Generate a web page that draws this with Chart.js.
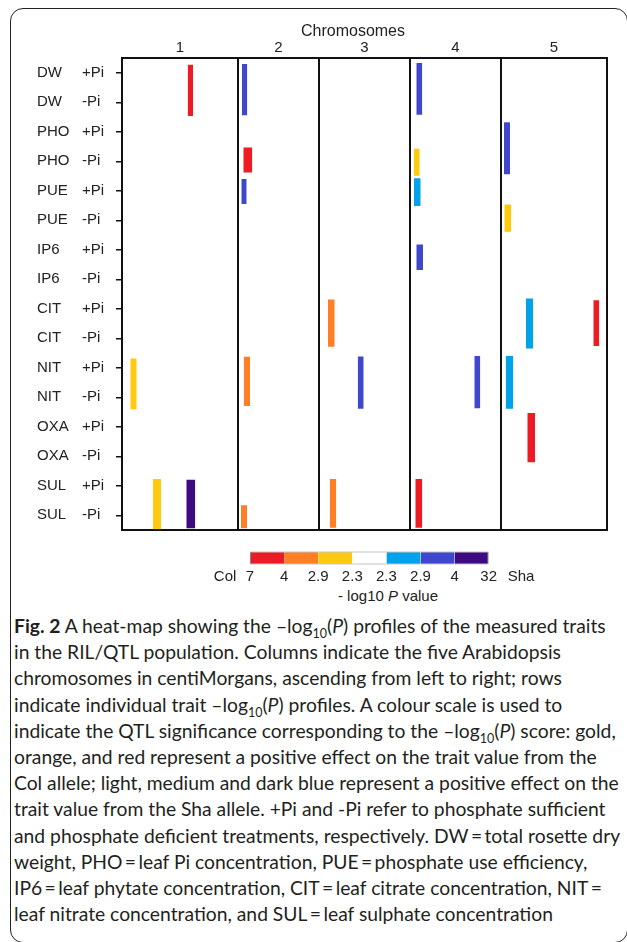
<!DOCTYPE html>
<html>
<head>
<meta charset="utf-8">
<script src="https://cdn.jsdelivr.net/npm/chart.js@4.4.1/dist/chart.umd.min.js"></script>
<style>
    html, body { margin: 0; padding: 0; background: #fff; }
    body { width: 627px; height: 942px; position: relative; overflow: hidden;
           font-family: 'Liberation Sans', Arial, sans-serif; color: #222; }
    #frame { position: absolute; left: 10px; top: 8px; width: 616px; height: 933px;
             border: 1.5px solid #222; border-radius: 13px; }
    #heat { position: absolute; left: 0; top: 0; }
    #scaleBar { position: absolute; left: 200px; top: 550px; }
    .lbl { position: absolute; white-space: nowrap; line-height: 1; transform: translate(-50%, -50%); }
    #chromTitle { left: 353px; top: 31px; font-size: 16px; }
    #scaleTitle { left: 388px; top: 595px; font-size: 15px; }
    #caption { position: absolute; left: 14px; top: 613px; white-space: nowrap;
               font-family: Lato, 'Open Sans', sans-serif; font-size: 19.3px; line-height: 26.2px; color: #231f20; }
    #caption sub { font-size: 12.5px; line-height: 0; }
</style>
</head>
<body>
<div id="frame"></div>
<canvas id="heat" width="627" height="550"></canvas>
<canvas id="scaleBar" width="340" height="32"></canvas>
<div class="lbl" id="chromTitle">Chromosomes</div>
<div class="lbl" id="scaleTitle">- log10 <i>P</i> value</div>
<div id="caption">
<b>Fig. 2</b> A heat-map showing the –log<sub>10</sub>(<i>P</i>) profiles of the measured traits<br>
in the RIL/QTL population. Columns indicate the five Arabidopsis<br>
chromosomes in centiMorgans, ascending from left to right; rows<br>
indicate individual trait –log<sub>10</sub>(<i>P</i>) profiles. A colour scale is used to<br>
indicate the QTL significance corresponding to the –log<sub>10</sub>(<i>P</i>) score: gold,<br>
orange, and red represent a positive effect on the trait value from the<br>
Col allele; light, medium and dark blue represent a positive effect on the<br>
trait value from the Sha allele. +Pi and -Pi refer to phosphate sufficient<br>
and phosphate deficient treatments, respectively. DW&thinsp;=&thinsp;total rosette dry<br>
weight, PHO&thinsp;=&thinsp;leaf Pi concentration, PUE&thinsp;=&thinsp;phosphate use efficiency,<br>
IP6&thinsp;=&thinsp;leaf phytate concentration, CIT&thinsp;=&thinsp;leaf citrate concentration, NIT&thinsp;=<br>
leaf nitrate concentration, and SUL&thinsp;=&thinsp;leaf sulphate concentration
</div>

<script>
// rows: each trait measured under +Pi and -Pi
var traits = ['DW', 'PHO', 'PUE', 'IP6', 'CIT', 'NIT', 'OXA', 'SUL'];
var treatments = ['+Pi', '-Pi'];

// chromosome lengths in cM
var chromosomes = ['1', '2', '3', '4', '5'];
var chromosomeLengths = [116, 81, 91, 91, 106];

// colour scale: Col side (red, orange, gold), blank, Sha side (light, medium, dark blue)
var scaleColours = ['#ED1C24', '#FF7F27', '#FFC90E', '#FFFFFF', '#00A2E8', '#3F48CC', '#3D0A7F'];
var scaleTicks = ['7', '4', '2.9', '2.3', '2.3', '2.9', '4', '32'];

// QTL: chromosome, start / end (cM on chromosome), first / last row, colour class
var qtlChr     = [1, 2, 2, 2, 4, 5, 4, 4, 5, 4, 1, 2, 1, 1, 2, 3, 3, 3, 4, 4, 5, 5, 5, 5];
var qtlStart   = [65.7, 4.0, 5.3, 3.3, 6.3, 3.0, 3.7, 4.0, 3.3, 6.3, 8.3, 5.7, 31.0, 64.3, 3.0, 9.0, 38.7, 10.7, 64.3, 5.3, 25.0, 92.3, 4.7, 26.3];
var qtlEnd     = [71.0, 9.3, 14.3, 8.7, 12.3, 9.0, 9.7, 10.7, 10.3, 13.0, 14.7, 12.0, 39.0, 73.3, 9.0, 15.7, 44.7, 17.3, 70.3, 12.3, 32.3, 98.3, 12.3, 34.0];
var qtlRowFrom = [-0.27, -0.30, 2.53, 3.60, -0.33, 1.68, 2.58, 3.58, 4.47, 5.82, 9.69, 9.63, 13.77, 13.80, 14.66, 7.69, 9.62, 13.77, 9.60, 13.77, 7.65, 7.71, 9.60, 11.53];
var qtlRowTo   = [1.47, 1.44, 3.38, 4.45, 1.42, 3.44, 3.49, 4.52, 5.39, 6.69, 11.41, 11.30, 15.47, 15.44, 15.44, 9.29, 11.39, 15.42, 11.37, 15.42, 9.35, 9.26, 11.39, 13.20];
var qtlClass   = [0, 5, 0, 5, 5, 5, 2, 4, 2, 5, 2, 1, 2, 6, 1, 1, 5, 1, 5, 0, 4, 0, 4, 0];


var rowCount = traits.length * treatments.length;
var chromosomeStarts = [];
var totalLength = 0;
chromosomeLengths.forEach(function (len) {
    chromosomeStarts.push(totalLength);
    totalLength += len;
});

var labelFont = { family: "'Liberation Sans', Arial, sans-serif", size: 15 };
var ink = '#111';

// each QTL is a short line on its first row, filled down to its last row
var qtlDatasets = qtlChr.map(function (chr, i) {
    var offset = chromosomeStarts[chr - 1];
    return {
        data: [
            { x: offset + qtlStart[i], y: qtlRowFrom[i] },
            { x: offset + qtlEnd[i], y: qtlRowFrom[i] }
        ],
        fill: { target: { value: qtlRowTo[i] } },
        backgroundColor: scaleColours[qtlClass[i]],
        borderColor: 'rgba(0,0,0,0)',
        borderWidth: 0,
        pointRadius: 0,
        tension: 0
    };
});

var heatChart = new Chart(document.getElementById('heat').getContext('2d'), {
    type: 'line',
    data: { datasets: qtlDatasets },
    options: {
        responsive: false,
        animation: false,
        layout: { padding: { left: 37, top: 36, right: 20, bottom: 3 } },
        plugins: {
            legend: { display: false },
            tooltip: { enabled: false }
        },
        scales: {
            x: {
                type: 'linear',
                position: 'bottom',
                min: 0,
                max: totalLength,
                afterBuildTicks: function (scale) {
                    scale.ticks = chromosomeStarts.concat([totalLength]).map(function (v) { return { value: v }; });
                },
                ticks: { display: false },
                grid: { color: ink, lineWidth: 2, drawTicks: false },
                border: { color: ink, width: 2 }
            },
            x2: {
                type: 'linear',
                position: 'top',
                min: 0,
                max: totalLength,
                afterBuildTicks: function (scale) {
                    scale.ticks = chromosomeStarts.map(function (s, i) { return { value: s + chromosomeLengths[i] / 2 }; });
                },
                afterFit: function (scale) { scale.height = 22; },
                ticks: {
                    callback: function (v, i) { return chromosomes[i]; },
                    font: labelFont, color: '#222', padding: 1, maxRotation: 0, autoSkip: false
                },
                grid: { display: false, drawTicks: false },
                border: { display: true, color: ink, width: 2 }
            },
            y: {
                type: 'linear',
                position: 'left',
                weight: 0,
                min: -0.5,
                max: rowCount - 0.5,
                reverse: true,
                afterBuildTicks: function (scale) {
                    var t = [];
                    for (var i = 0; i < rowCount; i++) t.push({ value: i });
                    scale.ticks = t;
                },
                afterFit: function (scale) { scale.width = 40; },
                ticks: {
                    callback: function (v, i) { return treatments[i % treatments.length]; },
                    crossAlign: 'far', padding: 11, font: labelFont, color: '#222', autoSkip: false
                },
                grid: { drawOnChartArea: false, drawTicks: true, tickLength: 6, color: ink, lineWidth: 1.5 },
                border: { color: ink, width: 2 }
            },
            y2: {
                type: 'linear',
                position: 'left',
                weight: 1,
                min: -0.5,
                max: rowCount - 0.5,
                reverse: true,
                afterBuildTicks: function (scale) {
                    var t = [];
                    for (var i = 0; i < rowCount; i++) t.push({ value: i });
                    scale.ticks = t;
                },
                afterFit: function (scale) { scale.width = 45; },
                ticks: {
                    callback: function (v, i) { return traits[Math.floor(i / treatments.length)]; },
                    crossAlign: 'far', padding: 4, font: labelFont, color: '#222', autoSkip: false
                },
                grid: { display: false, drawTicks: false },
                border: { display: false }
            },
            yr: {
                type: 'linear',
                position: 'right',
                min: -0.5,
                max: rowCount - 0.5,
                afterFit: function (scale) { scale.width = 0; },
                ticks: { display: false },
                grid: { drawOnChartArea: false, drawTicks: false },
                border: { color: ink, width: 2 }
            }
        }
    }
});


// colour key: seven stacked segments, labels on the segment boundaries
var keyTickValues = [-0.73];
for (var k = 0; k < scaleTicks.length; k++) keyTickValues.push(k);
keyTickValues.push(scaleColours.length + 0.95);
var keyTickLabels = ['Col'].concat(scaleTicks, ['Sha']);

var keyChart = new Chart(document.getElementById('scaleBar').getContext('2d'), {
    type: 'bar',
    data: {
        labels: ['key'],
        datasets: scaleColours.map(function (c, i) {
            return {
                data: [1],
                backgroundColor: c,
                borderColor: '#8a8a8a',
                borderWidth: { top: 1, bottom: 1, left: i === 0 ? 1 : 0, right: i === scaleColours.length - 1 ? 1 : 0 },
                borderSkipped: false,
                barPercentage: 1,
                categoryPercentage: 0.8
            };
        })
    },
    options: {
        indexAxis: 'y',
        responsive: false,
        animation: false,
        layout: { padding: 0 },
        plugins: {
            legend: { display: false },
            tooltip: { enabled: false }
        },
        scales: {
            x: {
                type: 'linear',
                stacked: true,
                min: -1.466,
                max: 8.504,
                afterBuildTicks: function (scale) {
                    scale.ticks = keyTickValues.map(function (v) { return { value: v }; });
                },
                ticks: {
                    callback: function (v, i) { return keyTickLabels[i]; },
                    font: labelFont, color: '#222', padding: 2, maxRotation: 0, autoSkip: false
                },
                grid: { display: false, drawTicks: false },
                border: { display: false }
            },
            y: { stacked: true, display: false }
        }
    }
});
</script>
</body>
</html>
